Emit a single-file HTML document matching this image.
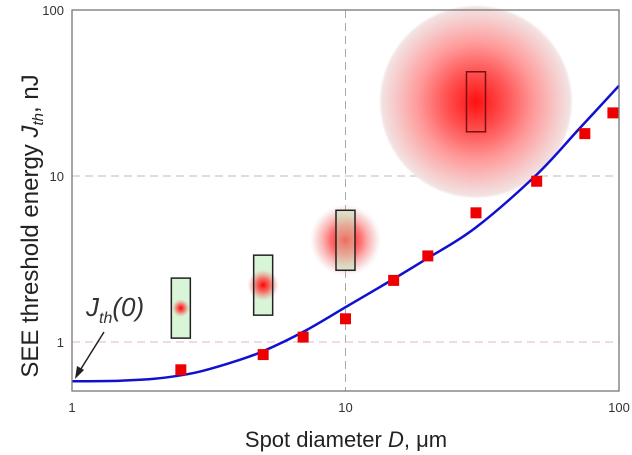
<!DOCTYPE html>
<html><head><meta charset="utf-8"><style>
body{margin:0;background:#fff}
svg{display:block;font-family:"Liberation Sans",Arial,sans-serif}
</style></head><body>
<svg id="chart" width="632" height="455" viewBox="0 0 632 455">
<defs>
<radialGradient id="g1"><stop offset="0" stop-color="#ff0000" stop-opacity="1"/><stop offset="0.45" stop-color="#ff3030" stop-opacity="0.65"/><stop offset="0.8" stop-color="#f08080" stop-opacity="0.3"/><stop offset="1" stop-color="#f0c0c0" stop-opacity="0"/></radialGradient>
<radialGradient id="gBig"><stop offset="0" stop-color="#ff1010"/><stop offset="0.3" stop-color="#ff5050"/><stop offset="0.6" stop-color="#ff9a9a"/><stop offset="0.85" stop-color="#f6cccc"/><stop offset="0.97" stop-color="#f3e2e2"/><stop offset="1" stop-color="#f3e4e4" stop-opacity="0"/></radialGradient>
</defs>
<g id="grid"></g>
<g id="insets"></g>
<g id="series"></g>
<rect x="72" y="10" width="547" height="381" fill="none" stroke="#777" stroke-width="1.3"/>
<g id="ticks" font-size="13" fill="#333"></g>
<text x="346" y="447" text-anchor="middle" font-size="22" fill="#222">Spot diameter <tspan font-style="italic">D</tspan>, μm</text>
<text transform="translate(38,226) rotate(-90)" text-anchor="middle" font-size="24" fill="#222">SEE threshold energy <tspan font-style="italic">J</tspan><tspan font-style="italic" font-size="15" dy="5">th</tspan><tspan dy="-5">, nJ</tspan></text>
<text x="86" y="316" font-size="26" font-style="italic" fill="#333">J<tspan font-size="16" dy="7">th</tspan><tspan dy="-7">(0)</tspan></text>
<line x1="104" y1="332" x2="79" y2="372" stroke="#222" stroke-width="1.5"/>
<polygon points="75,379 77,366 84,370" fill="#222"/>
</svg>
<script>
const xTicks=[1,10,100];
const yTicks=[1,10,100];
const pointD=[2.5,5,7,10,15,20,30,50,75,95];
const pointJ=[0.68,0.84,1.07,1.38,2.35,3.3,6,9.3,18,24];
const curveD=[1,1.5,2,2.5,3,4,5,7,10,15,20,30,50,70,100];
const curveJ=[0.58,0.585,0.6,0.63,0.67,0.77,0.88,1.15,1.62,2.4,3.2,4.9,10.2,18.5,35];
const insetD=[2.5,5,10,30];
const insetJ=[1.6,2.2,4.1,28];
const insetR=[9,16,36,97];
const NS='http://www.w3.org/2000/svg';
const X=d=>72+273.5*Math.log10(d);
const Y=v=>342-166*Math.log10(v);
function mk(t,a,p){const e=document.createElementNS(NS,t);for(const k in a)e.setAttribute(k,a[k]);p.appendChild(e);return e;}
const grid=document.getElementById('grid'),ticks=document.getElementById('ticks');
const ins=document.getElementById('insets'),ser=document.getElementById('series');
const gl1=mk('line',{x1:X(10),x2:X(10),y1:10,y2:391,stroke:'#aaa','stroke-dasharray':'8,5'},grid);


[10,1].forEach(v=>{const l=mk('line',{x1:72,x2:619,y1:Y(v),y2:Y(v),stroke:v==1?'#e0b8c0':'#bbb','stroke-dasharray':'8,5'},grid);

});
xTicks.forEach(v=>{const t=mk('text',{x:X(v),y:412,'text-anchor':'middle'},ticks);t.textContent=v;

});
yTicks.forEach(v=>{const t=mk('text',{x:64,y:Y(v)+5,'text-anchor':'end'},ticks);t.textContent=v;

});
insetD.forEach((d,i)=>{const cx=X(d),cy=Y(insetJ[i]);
if(i<3){const f=mk('rect',{x:cx-9.5,y:cy-30,width:19,height:60,fill:'#d8f5d8'},ins);

}
const c=mk('circle',{cx:cx,cy:cy,r:insetR[i],fill:i==3?'url(#gBig)':'url(#g1)'},ins);


const r=mk('rect',{x:cx-9.5,y:cy-30,width:19,height:60,fill:i==2?'rgba(216,245,216,0.45)':'none',stroke:i==3?'#7a1010':'#222','stroke-width':1.5},ins);

});
// smooth curve via Catmull-Rom through data points
const P=curveD.map((d,i)=>[X(d),Y(curveJ[i])]);
let dstr='M'+P[0][0].toFixed(1)+','+P[0][1].toFixed(1);
for(let i=0;i<P.length-1;i++){const p0=P[i-1]||P[i],p1=P[i],p2=P[i+1],p3=P[i+2]||P[i+1];
const c1=[p1[0]+(p2[0]-p0[0])/6,p1[1]+(p2[1]-p0[1])/6],c2=[p2[0]-(p3[0]-p1[0])/6,p2[1]-(p3[1]-p1[1])/6];
dstr+='C'+c1.map(n=>n.toFixed(1)).join(',')+' '+c2.map(n=>n.toFixed(1)).join(',')+' '+p2.map(n=>n.toFixed(1)).join(',');}
const path=mk('path',{d:dstr,fill:'none',stroke:'#1010d0','stroke-width':2.5},ser);


pointD.forEach((d,i)=>{const s=mk('rect',{x:X(d)-5.5,y:Y(pointJ[i])-5.5,width:11,height:11,fill:'#ee0000'},ser);

});
</script>
</body></html>
